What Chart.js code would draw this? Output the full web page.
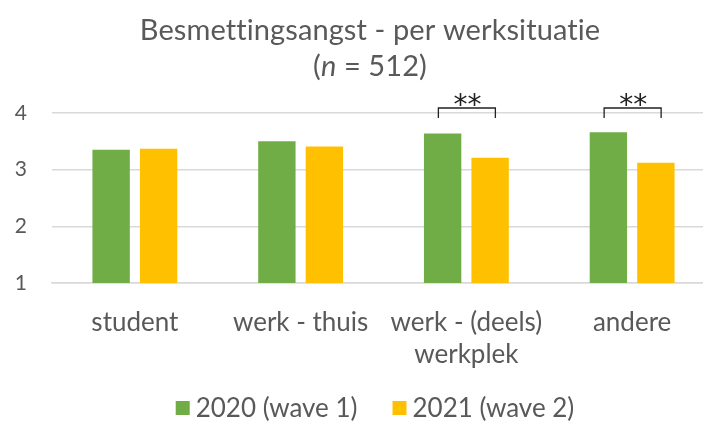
<!DOCTYPE html>
<html>
<head>
<meta charset="utf-8">
<script src="https://cdn.jsdelivr.net/npm/chart.js@4/dist/chart.umd.min.js"></script>
<style>
  html, body { margin: 0; padding: 0; background: #fff; overflow: hidden; }
  #wrap { position: relative; width: 750px; height: 421px; }
</style>
</head>
<body>
<div id="wrap"><canvas id="c"></canvas></div>
<script>
const categories = ['student', 'werk - thuis', ['werk - (deels)', 'werkplek'], 'andere'];
const wave1 = [3.35, 3.50, 3.64, 3.66];
const wave2 = [3.37, 3.41, 3.21, 3.12];
const seriesNames = ['2020 (wave 1)', '2021 (wave 2)'];
const seriesColors = ['#70AD47', '#FFC000'];
const significance = ['', '', '**', '**'];
const yTicks = [1, 2, 3, 4];
const titleLine1 = 'Besmettingsangst - per werksituatie';

const FONT = 'Lato, "Open Sans", sans-serif';
const TXT = '#595959';

const titlePlugin = {
  id: 'customTitle',
  afterDraw(chart) {
    const ctx = chart.ctx;
    const cx = 370;
    ctx.save();
    ctx.fillStyle = TXT;
    ctx.textBaseline = 'alphabetic';
    ctx.textAlign = 'center';
    if ('letterSpacing' in ctx) ctx.letterSpacing = '0.1px';
    ctx.font = '29px ' + FONT;
    ctx.fillText(titleLine1, cx, 40);
    const parts = [['(', 'normal'], ['n', 'italic'], [' = 512)', 'normal']];
    let total = 0;
    parts.forEach(p => { ctx.font = p[1] + ' 29px ' + FONT; total += ctx.measureText(p[0]).width; });
    let x = cx - total / 2;
    ctx.textAlign = 'left';
    parts.forEach(p => { ctx.font = p[1] + ' 29px ' + FONT; ctx.fillText(p[0], x, 76); x += ctx.measureText(p[0]).width; });
    ctx.restore();
  }
};

const legendPlugin = {
  id: 'customLegend',
  afterDraw(chart) {
    const ctx = chart.ctx;
    const size = 26, box = 14, gap = 6, itemGap = 35, cy = 408, cx = 375;
    ctx.save();
    ctx.font = size + 'px ' + FONT;
    const widths = chart.data.datasets.map(d => box + gap + ctx.measureText(d.label).width);
    const total = widths.reduce((a, b) => a + b, 0) + itemGap * (widths.length - 1);
    let x = cx - total / 2;
    ctx.textBaseline = 'middle';
    ctx.textAlign = 'left';
    chart.data.datasets.forEach((d, i) => {
      ctx.fillStyle = d.backgroundColor;
      ctx.fillRect(x, cy - box / 2, box, box);
      ctx.fillStyle = TXT;
      ctx.fillText(d.label, x + box + gap, cy + 1);
      x += widths[i] + itemGap;
    });
    ctx.restore();
  }
};

const sigPlugin = {
  id: 'sig',
  afterDatasetsDraw(chart) {
    const ctx = chart.ctx;
    const xs = chart.scales.x, ys = chart.scales.y;
    ctx.save();
    ctx.strokeStyle = '#222';
    ctx.lineWidth = 1.3;
    ctx.fillStyle = '#222';
    ctx.font = '28px "DejaVu Sans", sans-serif';
    ctx.textAlign = 'center';
    ctx.textBaseline = 'alphabetic';
    significance.forEach((s, i) => {
      if (!s) return;
      const cx = xs.getPixelForValue(i);
      const top = ys.getPixelForValue(ys.max) - 5;
      const l = cx - 28, r = cx + 29;
      ctx.beginPath();
      ctx.moveTo(l, top + 10);
      ctx.lineTo(l, top);
      ctx.lineTo(r, top);
      ctx.lineTo(r, top + 10);
      ctx.stroke();
      ctx.fillText(s, cx + 1, top + 6);
    });
    ctx.restore();
  }
};

new Chart(document.getElementById('c'), {
  type: 'bar',
  data: {
    labels: categories,
    datasets: [
      { label: seriesNames[0], data: wave1, backgroundColor: seriesColors[0], borderWidth: 0,
        categoryPercentage: 0.573, barPercentage: 0.787 },
      { label: seriesNames[1], data: wave2, backgroundColor: seriesColors[1], borderWidth: 0,
        categoryPercentage: 0.573, barPercentage: 0.787 }
    ]
  },
  options: {
    responsive: true,
    maintainAspectRatio: false,
    animation: false,
    layout: { padding: { top: 113, right: 35, left: 0, bottom: 0 } },
    plugins: {
      title: { display: false },
      tooltip: { enabled: false },
      legend: { display: false }
    },
    scales: {
      x: {
        grid: { display: false },
        border: { display: true, color: '#d9d9d9', width: 1.5 },
        ticks: { color: TXT, font: { family: FONT, size: 26, lineHeight: 1.23 }, maxRotation: 0, autoSkip: false, padding: 16 },
        afterFit(axis) { axis.height = 138; }
      },
      y: {
        min: 1,
        max: 4,
        afterBuildTicks(axis) { axis.ticks = yTicks.map(v => ({ value: v })); },
        grid: { color: '#d9d9d9', lineWidth: 1.5, drawTicks: false },
        border: { display: false },
        ticks: { color: TXT, font: { family: FONT, size: 21 }, padding: 25 },
        afterFit(axis) { axis.width = 52; }
      }
    }
  },
  plugins: [titlePlugin, sigPlugin, legendPlugin]
});
</script>
</body>
</html>
